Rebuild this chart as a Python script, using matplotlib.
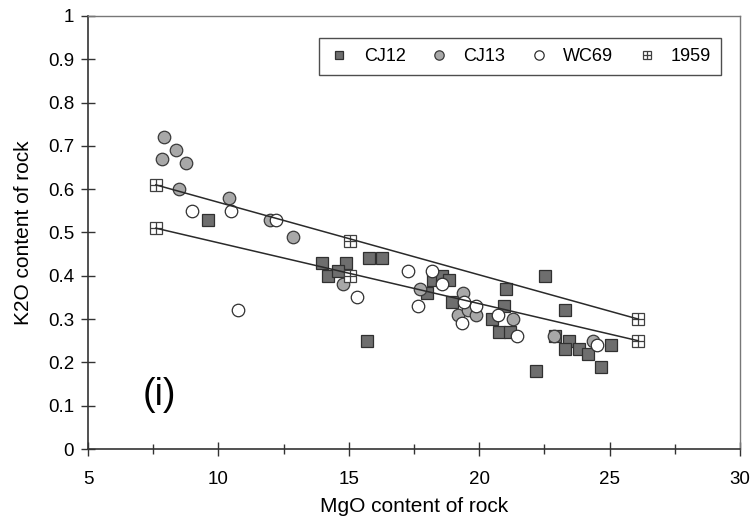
import matplotlib
matplotlib.use("Agg")
import matplotlib.pyplot as plt
from matplotlib.ticker import MultipleLocator

plt.rcParams['font.family'] = ['Liberation Sans', 'DejaVu Sans']

# sample groups: MgO (x) vs K2O (y)
cj12_mgo = [9.6, 13.97, 14.89, 14.2, 14.6, 15.77, 16.27, 15.7, 18.23, 18.57,
            18.84, 18.0, 18.96, 20.49, 21.03, 20.95, 20.76, 21.18, 22.52, 22.18,
            23.29, 22.9, 23.44, 23.29, 23.83, 24.17, 25.05, 24.67]
cj12_k2o = [0.53, 0.43, 0.43, 0.40, 0.41, 0.44, 0.44, 0.25, 0.39, 0.40,
            0.39, 0.36, 0.34, 0.30, 0.37, 0.33, 0.27, 0.27, 0.40, 0.18,
            0.32, 0.26, 0.25, 0.23, 0.23, 0.22, 0.24, 0.19]

cj13_mgo = [7.91, 8.37, 7.84, 8.76, 8.49, 10.41, 11.98, 12.86, 14.78, 17.73,
            19.38, 19.19, 19.57, 19.88, 21.3, 22.85, 24.36]
cj13_k2o = [0.72, 0.69, 0.67, 0.66, 0.60, 0.58, 0.53, 0.49, 0.38, 0.37,
            0.36, 0.31, 0.32, 0.31, 0.30, 0.26, 0.25]

wc69_mgo = [8.99, 10.48, 10.75, 12.2, 15.3, 17.27, 17.65, 18.19, 18.57, 19.4,
            19.88, 19.34, 20.72, 21.45, 24.52]
wc69_k2o = [0.55, 0.55, 0.32, 0.53, 0.35, 0.41, 0.33, 0.41, 0.38, 0.34,
            0.33, 0.29, 0.31, 0.26, 0.24]

s1959_mgo = [7.6, 7.6, 15.05, 15.05, 26.1, 26.1]
s1959_k2o = [0.61, 0.51, 0.48, 0.40, 0.30, 0.25]

# trend lines through the 1959 points
upper_mgo = [7.6, 26.1]
upper_k2o = [0.61, 0.30]
lower_mgo = [7.6, 26.1]
lower_k2o = [0.51, 0.25]

fig = plt.figure(figsize=(7.56, 5.29), dpi=100)
ax = fig.add_axes([0.1164, 0.1512, 0.8624, 0.8186])

ms = 8.5
h12, = ax.plot(cj12_mgo, cj12_k2o, 's', ms=ms, mfc='#6e6e6e', mec='#303030',
               mew=0.9, ls='none', label='CJ12', zorder=3)
h13, = ax.plot(cj13_mgo, cj13_k2o, 'o', ms=9, mfc='#a8a8a8', mec='#3a3a3a',
               mew=0.9, ls='none', label='CJ13', zorder=3)
hwc, = ax.plot(wc69_mgo, wc69_k2o, 'o', ms=9, mfc='white', mec='#303030',
               mew=0.9, ls='none', label='WC69', zorder=3)
hsq, = ax.plot(s1959_mgo, s1959_k2o, 's', ms=ms, mfc='white', mec='#404040',
               mew=0.9, ls='none', zorder=3)
hpl, = ax.plot(s1959_mgo, s1959_k2o, '+', ms=ms, mec='#404040', mew=0.9,
               ls='none', zorder=3)

ax.plot(upper_mgo, upper_k2o, color='#2a2a2a', lw=1.1, zorder=4)
ax.plot(lower_mgo, lower_k2o, color='#2a2a2a', lw=1.1, zorder=4)

ax.set_xlim(5, 30)
ax.set_ylim(0, 1)
ax.xaxis.set_major_locator(MultipleLocator(5))
ax.xaxis.set_minor_locator(MultipleLocator(2.5))
ax.set_yticks([0, 0.1, 0.2, 0.3, 0.4, 0.5, 0.6, 0.7, 0.8, 0.9, 1.0])
ax.set_yticklabels(['0', '0.1', '0.2', '0.3', '0.4', '0.5', '0.6', '0.7',
                    '0.8', '0.9', '1'])

ax.tick_params(axis='both', which='major', direction='inout', length=10,
               width=1.0, color='#333333', labelsize=13.5)
ax.tick_params(axis='x', which='minor', direction='inout', length=7,
               width=1.0, color='#333333')
ax.tick_params(axis='x', which='major', pad=11)
ax.tick_params(axis='y', which='major', pad=5)

for side in ['left', 'bottom']:
    ax.spines[side].set_color('#333333')
    ax.spines[side].set_linewidth(1.2)
for side in ['top', 'right']:
    ax.spines[side].set_color('#777777')
    ax.spines[side].set_linewidth(1.0)

ax.set_xlabel('MgO content of rock', fontsize=15, labelpad=6)
ax.set_ylabel('K2O content of rock', fontsize=15, labelpad=11)

ax.text(7.72, 0.125, '(i)', fontsize=27, ha='center', va='center')

leg = ax.legend([h12, h13, hwc, (hsq, hpl)], ['CJ12', 'CJ13', 'WC69', '1959'],
                ncol=4, loc='upper right', bbox_to_anchor=(0.971, 0.949),
                borderaxespad=0, frameon=True, fancybox=False,
                edgecolor='#222222', fontsize=13, markerscale=0.75,
                handlelength=1.2, handletextpad=0.75, columnspacing=1.25,
                borderpad=0.55)
leg.get_frame().set_linewidth(1.0)

fig.savefig('out.png', dpi=100, facecolor='white')
